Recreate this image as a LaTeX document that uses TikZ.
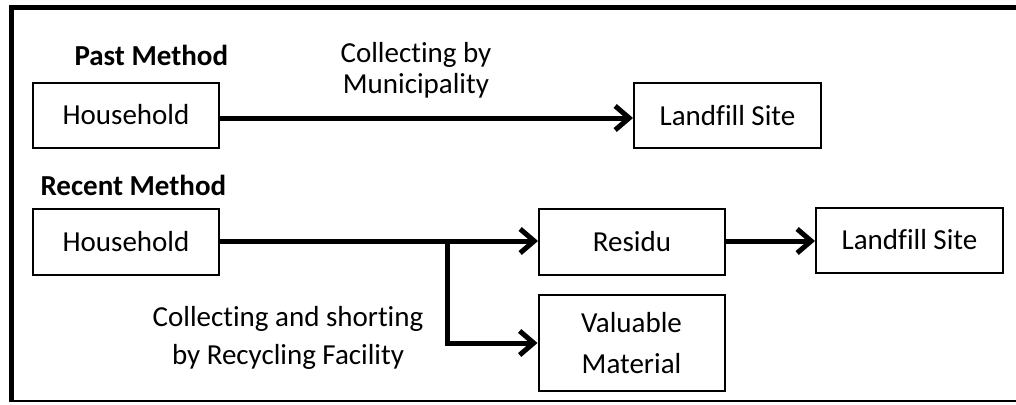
\documentclass[tikz,border=0pt]{standalone}
\usepackage{fontspec}
\setmainfont{Carlito}[Ligatures=NoCommon]
\usetikzlibrary{arrows.meta}

\begin{document}
\begin{tikzpicture}[
  x=1pt, y=-1pt,
  box/.style={draw, line width=2pt, minimum width=186pt, minimum height=65pt, inner sep=0pt, font=\fontsize{29}{35}\selectfont},
  flow/.style={line width=5pt, -{Straight Barb[length=14pt,width=24pt]}},
  hdr/.style={anchor=base west, font=\fontsize{29}{35}\selectfont\bfseries}
]
  \useasboundingbox (0,0) rectangle (1016,404);
  % frame
  \draw[line width=2pt] (11,401) -- (1016,401);
  \draw[line width=5pt] (11,402) -- (11,8) -- (1016,8);

  % past method
  \node[hdr] (pastHead) at (71,65) {Past Method};
  \node[box] (pastHouse) at (126,115) {Household};
  \node[box, minimum width=187pt] (pastLandfill) at (727.5,115.5) {Landfill Site};
  \draw[flow] (pastHouse.east |- 0,118) -- (pastLandfill.west |- 0,118);
  \node[align=center, font=\fontsize{29}{31}\selectfont] (pastLabel) at (416,70) {Collecting by\\Municipality};

  % recent method
  \node[hdr] (recHead) at (37,195) {Recent Method};
  \node[box, minimum height=66pt] (recHouse) at (126,242) {Household};
  \node[box, minimum height=66pt] (residu) at (632,242) {Residu};
  \node[box, minimum width=187pt] (recLandfill) at (909.5,240) {Landfill Site};
  \node[box, minimum height=96pt, align=center, font=\fontsize{29}{41}\selectfont] (valuable) at (631.5,343) {Valuable\\Material};
  \coordinate (split) at (447,241);
  \draw[flow] (recHouse.east |- 0,241) -- (residu.west |- 0,241);
  \draw[flow] (split) |- (valuable.west);
  \draw[flow] (residu.east |- 0,241) -- (recLandfill.west |- 0,241);
  \node[align=center, font=\fontsize{29}{38}\selectfont] (recLabel) at (288,338) {Collecting and shorting\\by Recycling Facility};

\end{tikzpicture}
\end{document}
